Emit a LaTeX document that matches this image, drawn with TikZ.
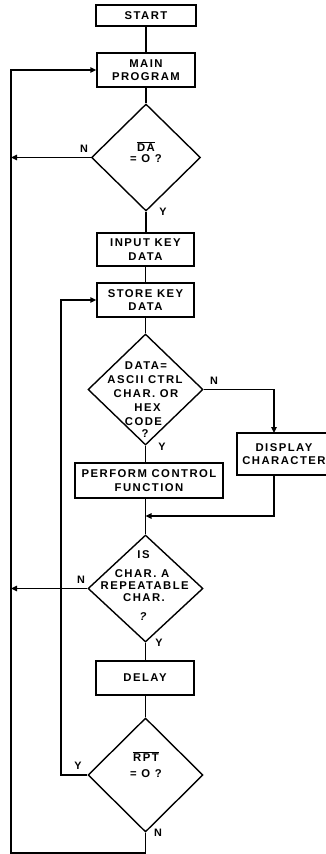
\documentclass[tikz,border=0pt]{standalone}
\usepackage{fontspec}
\setmainfont{Liberation Sans}[LetterSpace=13]
\usetikzlibrary{shapes.geometric,arrows.meta}
\begin{document}
\begin{tikzpicture}[x=1pt,y=-1pt,
  line width=1.4pt,
  box/.style={draw, rectangle, inner sep=0pt, align=center,
    font=\bfseries\fontsize{11.3}{13.5}\selectfont},
  dia/.style={draw, diamond, inner sep=0pt},
  txt/.style={inner sep=0pt, font=\bfseries\fontsize{11.3}{13}\selectfont},
  lab/.style={inner sep=0pt, font=\bfseries\fontsize{10.8}{12}\selectfont},
  arr/.style={-{Triangle[length=6pt,width=5.5pt]}}]
\useasboundingbox (0,0) rectangle (325,854);

% boxes
\node[box, minimum width=100pt, minimum height=21pt] (start) at (146,15.5) {START};
\node[box, minimum width=98pt, minimum height=34pt] (main) at (146,70) {MAIN\\PROGRAM};
\node[dia, minimum width=109pt, minimum height=107pt] (da) at (146,157.5) {};
\node[box, minimum width=97pt, minimum height=33pt] (input) at (145.5,249.5) {INPUT KEY\\DATA};
\node[box, minimum width=97pt, minimum height=34pt] (store) at (145.5,300) {STORE KEY\\DATA};
\node[dia, minimum width=115pt, minimum height=111pt] (ascii) at (145.5,389.5) {};
\node[box, minimum width=148pt, minimum height=35pt] (perform) at (149,480.5) {PERFORM CONTROL\\FUNCTION};
\node[box, minimum width=94pt, minimum height=42pt] (display) at (284,454) {DISPLAY\\CHARACTER};
\node[dia, minimum width=115pt, minimum height=107pt] (rep) at (145.5,588.5) {};
\node[box, minimum width=98pt, minimum height=34pt] (delay) at (145,678) {DELAY};
\node[dia, minimum width=115pt, minimum height=114pt] (rpt) at (145.5,775) {};

% diamond texts
\node[txt] (da1) at (146,146.7) {$\overline{\hbox{DA}}$};
\node[txt] (da2) at (146,158.3) {= O ?};
\node[txt] (as1) at (146,365.7) {DATA=};
\node[txt] (as2) at (145,380) {ASCII CTRL};
\node[txt] (as3) at (146,394) {CHAR. OR};
\node[txt] (as4) at (147.5,407.5) {HEX};
\node[txt] (as5) at (143.5,421.7) {CODE};
\node[txt] (as6) at (145,433.3) {?};
\node[txt] (re1) at (143.5,555) {IS};
\node[txt] (re2) at (142,573.3) {CHAR. A};
\node[txt] (re3) at (144.7,585.5) {REPEATABLE};
\node[txt] (re4) at (144,597.3) {CHAR.};
\node[txt] (re5) at (143,616.7) {\itshape ?};
\node[txt] (rp1) at (146,756.7) {$\overline{\hbox{RPT}}$};
\node[txt] (rp2) at (146,773.3) {= O ?};

% branch labels
\node[lab] (n1) at (84,149) {N};
\node[lab] (y1) at (163,212) {Y};
\node[lab] (n2) at (214,381) {N};
\node[lab] (y2) at (162,446.7) {Y};
\node[lab] (n3) at (81,580) {N};
\node[lab] (y3) at (159,643) {Y};
\node[lab] (y4) at (78,766) {Y};
\node[lab] (n4) at (158,833) {N};

% coordinates
\coordinate (lx1) at (11,157.5);
\coordinate (lx3) at (11,588.5);
\coordinate (dtop) at (274,433);
\coordinate (dbot) at (274,475);
\coordinate (merge) at (145.5,516);
\coordinate (c1) at (61,775);
\coordinate (c2) at (61,300);
\coordinate (b1) at (145.5,853);
\coordinate (b2) at (11,853);
\coordinate (b3) at (11,70);

% connectors
\draw (start) -- (main);
\draw (main) -- (da);
\draw (da.south) -- (da.south |- input.north);
\draw (input) -- (store);
\draw (store) -- (ascii);
\draw (ascii.south) -- (ascii.south |- perform.north);
\draw (rep.north |- perform.south) -- (rep.north);
\draw (rep.south) -- (rep.south |- delay.north);
\draw (rpt.north |- delay.south) -- (rpt.north);
\draw[arr] (ascii.east) -| (dtop);
\draw[arr] (dbot) |- (merge);
\draw[arr] (da.west) -- (lx1);
\draw[arr] (rep.west) -- (lx3);
\draw[arr] (rpt.west) -- (c1) -- (c2) -- (store.west);
\draw[arr] (rpt.south) -- (b1) -- (b2) -- (b3) -- (main.west);
\end{tikzpicture}
\end{document}
